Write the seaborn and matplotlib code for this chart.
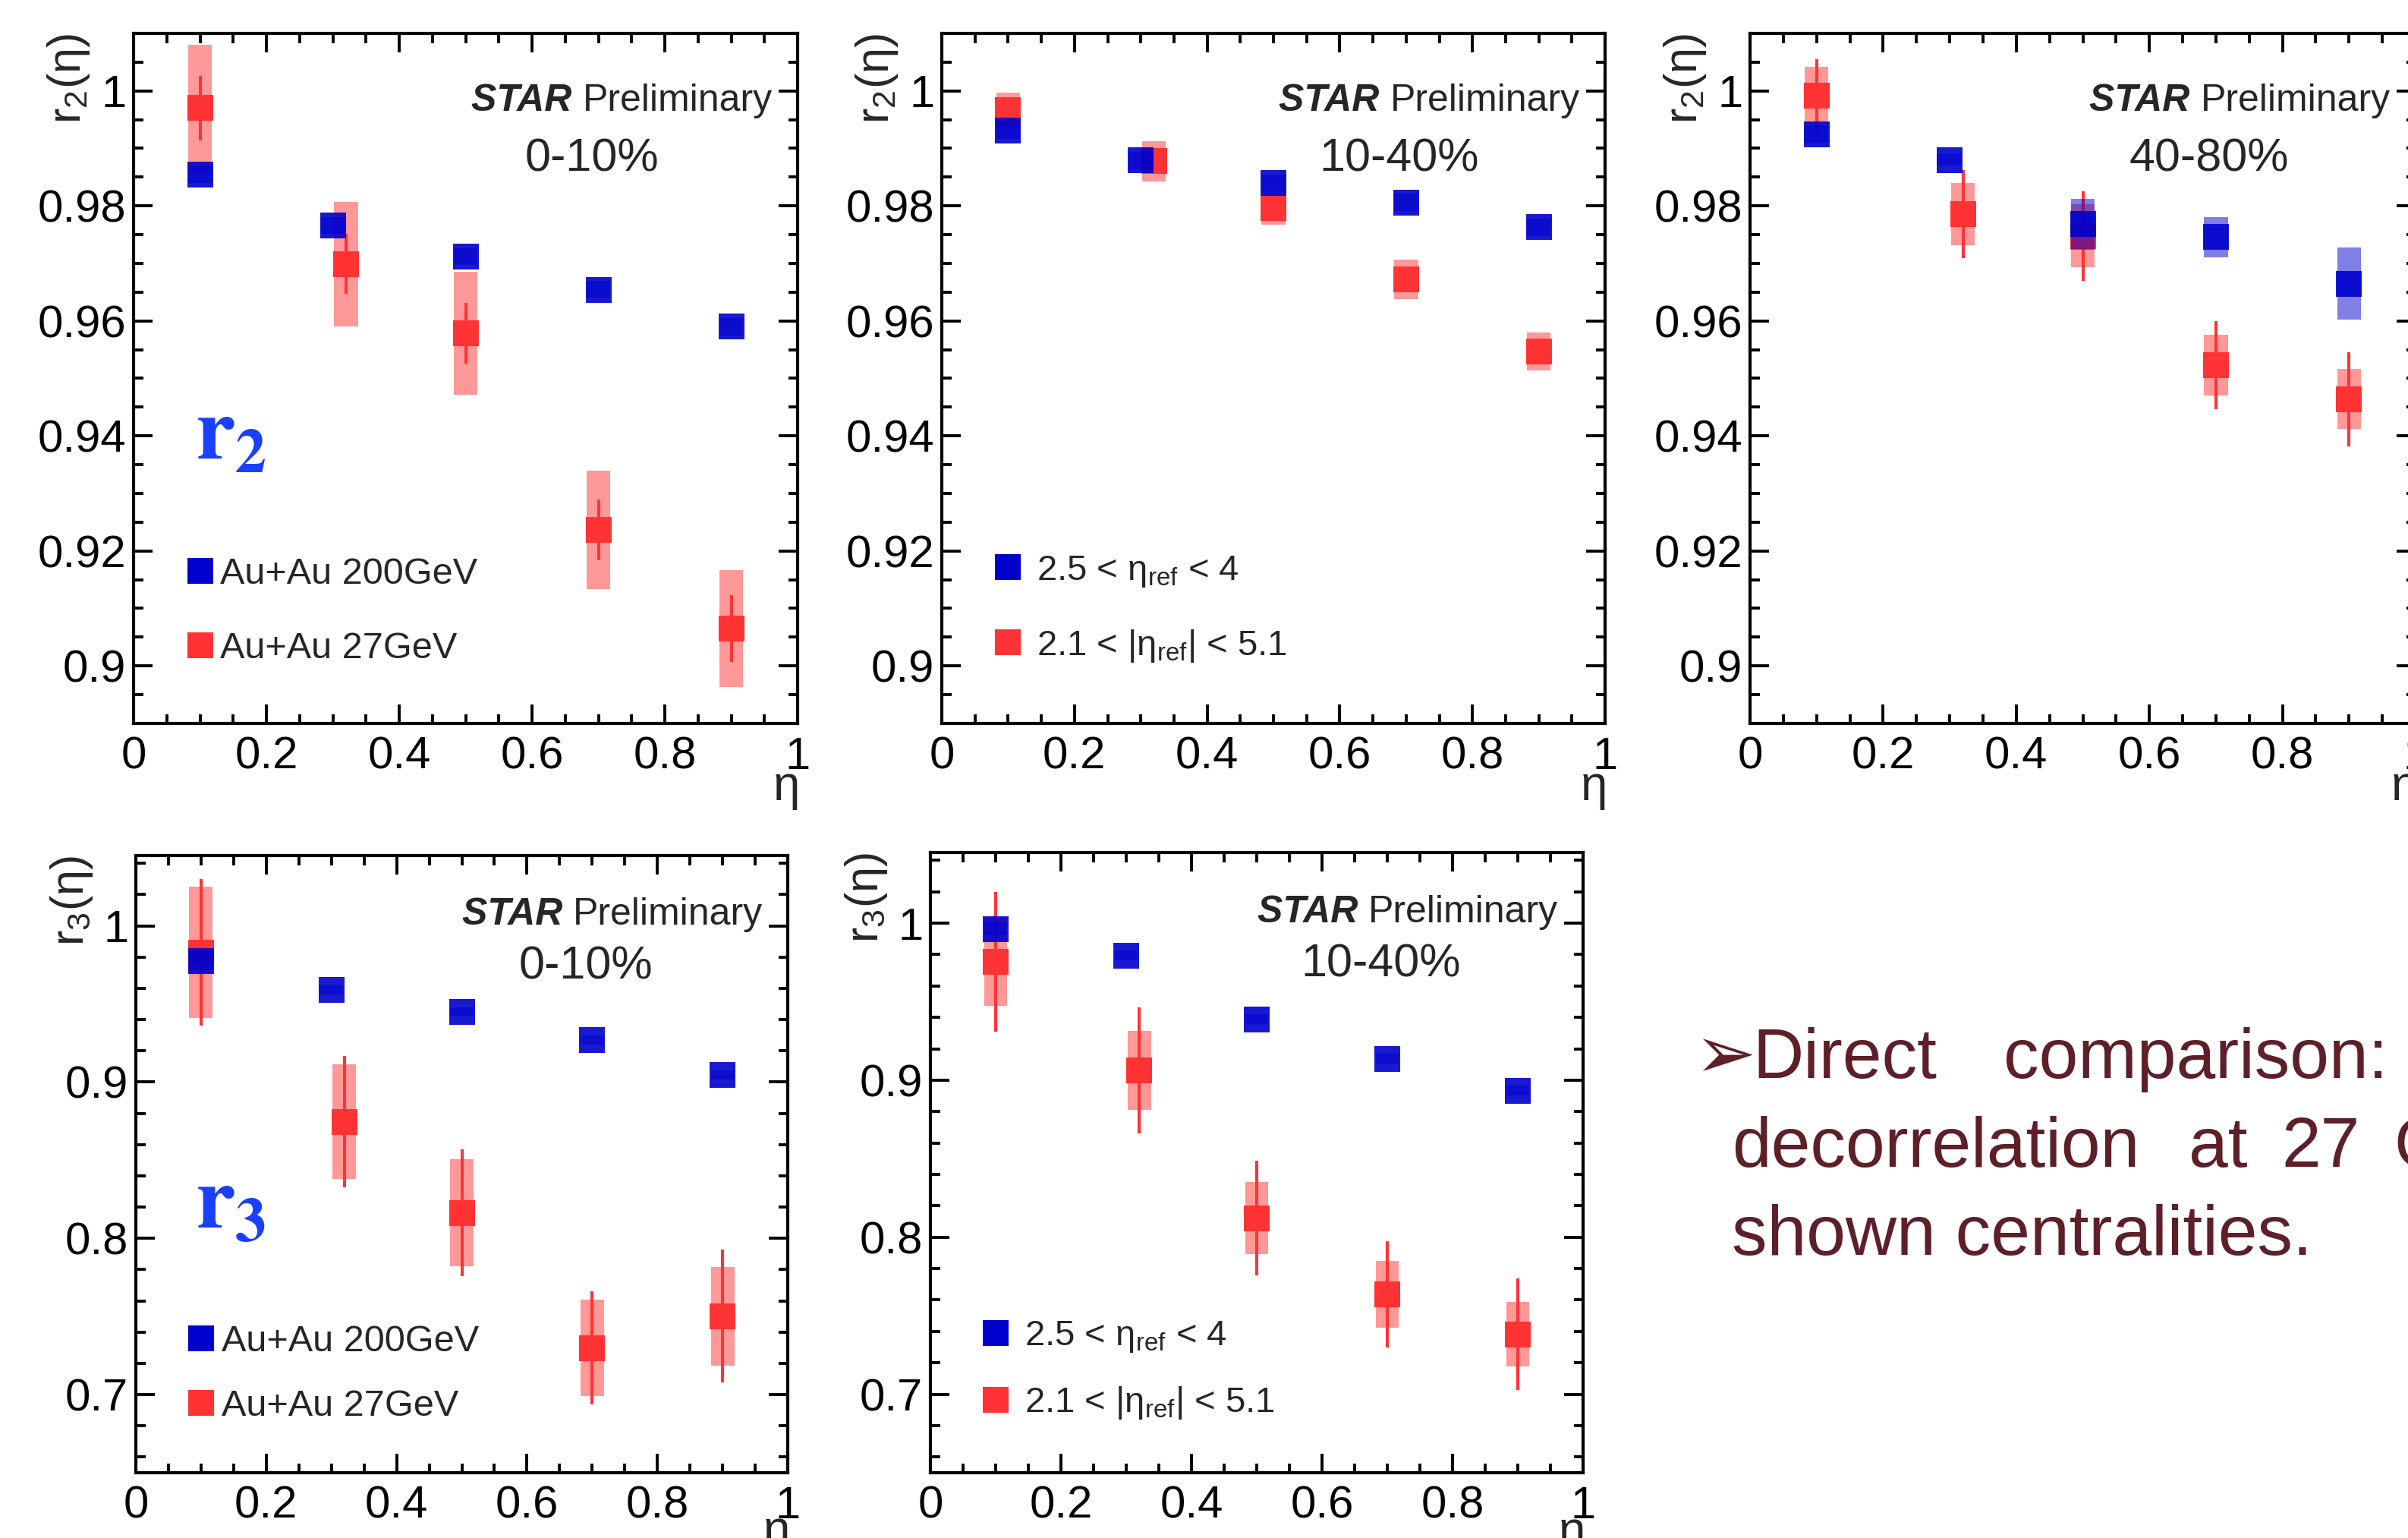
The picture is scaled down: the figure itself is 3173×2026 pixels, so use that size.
import matplotlib
matplotlib.use("Agg")
import matplotlib.pyplot as plt
from matplotlib.lines import Line2D
from matplotlib.ticker import MultipleLocator, FuncFormatter
import pandas as pd
import seaborn as sns

# ── Data ──────────────────────────────────────────────────────────────────────

ETA_200 = [0.1, 0.3, 0.5, 0.7, 0.9]
ETA_27 = [0.1, 0.32, 0.5, 0.7, 0.9]

# r2, 0-10%
r2_c010_200 = [0.9855, 0.9766, 0.9712, 0.9654, 0.9590]
r2_c010_200_sys = [0.0015, 0.0015, 0.0015, 0.0015, 0.0015]
r2_c010_27 = [0.9970, 0.9699, 0.9579, 0.9237, 0.9065]
r2_c010_27_stat = [0.0056, 0.0052, 0.0053, 0.0053, 0.0058]
r2_c010_27_sys = [0.0110, 0.0108, 0.0107, 0.0103, 0.0102]

# r2, 10-40%
r2_c1040_200 = [0.9931, 0.9879, 0.9840, 0.9806, 0.9763]
r2_c1040_200_sys = [0.0015, 0.0015, 0.0015, 0.0015, 0.0015]
r2_c1040_27 = [0.9967, 0.9878, 0.9797, 0.9672, 0.9547]
r2_c1040_27_stat = [0.0010, 0.0010, 0.0010, 0.0010, 0.0010]
r2_c1040_27_sys = [0.0030, 0.0035, 0.0030, 0.0034, 0.0033]

# r2, 40-80%
r2_c4080_200 = [0.9925, 0.9880, 0.9768, 0.9746, 0.9665]
r2_c4080_200_sys = [0.0015, 0.0010, 0.0044, 0.0035, 0.0063]
r2_c4080_27 = [0.9992, 0.9786, 0.9748, 0.9523, 0.9464]
r2_c4080_27_stat = [0.0063, 0.0077, 0.0078, 0.0077, 0.0082]
r2_c4080_27_sys = [0.0050, 0.0054, 0.0055, 0.0053, 0.0052]

# r3, 0-10%
r3_c010_200 = [0.9776, 0.9590, 0.9450, 0.9269, 0.9045]
r3_c010_200_sys = [0.0060, 0.0030, 0.0030, 0.0030, 0.0030]
r3_c010_27 = [0.9830, 0.8746, 0.8164, 0.7299, 0.7502]
r3_c010_27_stat = [0.0470, 0.0420, 0.0406, 0.0360, 0.0425]
r3_c010_27_sys = [0.0420, 0.0366, 0.0343, 0.0310, 0.0317]

# r3, 10-40%
r3_c1040_200 = [0.9964, 0.9794, 0.9388, 0.9137, 0.8934]
r3_c1040_200_sys = [0.0040, 0.0030, 0.0030, 0.0030, 0.0030]
r3_c1040_27 = [0.9755, 0.9063, 0.8122, 0.7636, 0.7382]
r3_c1040_27_stat = [0.0445, 0.0400, 0.0366, 0.0340, 0.0356]
r3_c1040_27_sys = [0.0280, 0.0250, 0.0228, 0.0213, 0.0206]

LEG_ENERGY = ["Au+Au 200GeV", "Au+Au 27GeV"]
LEG_REF = [r"2.5 < $\eta_{\rm ref}$ < 4", r"2.1 < |$\eta_{\rm ref}$| < 5.1"]

BLUE = "#0000cc"
RED = "#ff3333"
TXT = "#5e1f29"

# ── Style ─────────────────────────────────────────────────────────────────────

sns.set_theme(style="ticks")
plt.rcParams["font.family"] = ["Liberation Sans", "DejaVu Sans"]
plt.rcParams["mathtext.fontset"] = "custom"
plt.rcParams["mathtext.rm"] = "Liberation Sans"
plt.rcParams["mathtext.it"] = "Liberation Sans:italic"
plt.rcParams["mathtext.bf"] = "Liberation Sans:bold"
plt.rcParams["mathtext.default"] = "regular"

W, H = 3173, 2026
fig = plt.figure(figsize=(W / 100, H / 100), dpi=100)
fig.patch.set_facecolor("white")


def px_rect(left, top, right, bottom):
    return [left / W, 1 - bottom / H, (right - left) / W, (bottom - top) / H]


def draw_panel(rect, blue, blue_sys, red, red_stat, red_sys, ylim, major, minor,
               order, cent, legend=None, leg_font=35, leg_pad=0.15, leg_space=1.0,
               leg_y=0.164, tag=None, tag_pos=None):
    ax = fig.add_axes(px_rect(*rect))
    df_b = pd.DataFrame({"eta": ETA_200, "r": blue, "sys": blue_sys})
    df_r = pd.DataFrame({"eta": ETA_27, "r": red, "stat": red_stat, "sys": red_sys})

    # red: sys boxes, stat bars, markers
    ax.bar(df_r["eta"], 2 * df_r["sys"], bottom=df_r["r"] - df_r["sys"], width=0.036,
           color=RED, alpha=0.5, linewidth=0, zorder=1)
    ax.errorbar(df_r["eta"], df_r["r"], yerr=df_r["stat"], fmt="none", ecolor=RED,
                elinewidth=2.9, capsize=0, zorder=2)
    sns.scatterplot(data=df_r, x="eta", y="r", marker="s", s=625, color=RED,
                    linewidth=0, ax=ax, legend=False, zorder=3)
    # blue: sys boxes, markers
    ax.bar(df_b["eta"], 2 * df_b["sys"], bottom=df_b["r"] - df_b["sys"], width=0.036,
           color=BLUE, alpha=0.5, linewidth=0, zorder=4)
    sns.scatterplot(data=df_b, x="eta", y="r", marker="s", s=625, color=BLUE,
                    alpha=0.9, linewidth=0, ax=ax, legend=False, zorder=5)

    ax.set_xlim(0, 1)
    ax.set_ylim(*ylim)
    ax.xaxis.set_major_locator(MultipleLocator(0.2))
    ax.xaxis.set_minor_locator(MultipleLocator(0.05))
    ax.yaxis.set_major_locator(MultipleLocator(major))
    ax.yaxis.set_minor_locator(MultipleLocator(minor))
    fmt = FuncFormatter(lambda v, p: f"{round(v, 6):g}")
    ax.xaxis.set_major_formatter(fmt)
    ax.yaxis.set_major_formatter(fmt)
    ax.tick_params(which="both", direction="in", top=True, right=True,
                   width=2.8, colors="black", labelsize=43)
    ax.tick_params(axis="x", pad=12)
    ax.tick_params(axis="y", pad=7)
    ax.tick_params(which="major", length=18)
    ax.tick_params(which="minor", length=9)
    for s in ax.spines.values():
        s.set_linewidth(3)
        s.set_color("black")

    ax.set_xlabel(r"$\eta$", fontsize=46, loc="right")
    ax.xaxis.set_label_coords(1.0, -0.062)
    ax.set_ylabel(rf"$\mathrm{{r}}_{{{order}}}(\eta)$", fontsize=44, loc="top")
    ax.yaxis.set_label_coords(-0.063, 1.0)

    prelim = ax.text(0.962, 0.888, "Preliminary", transform=ax.transAxes,
                     ha="right", va="baseline", fontsize=36)
    ax.annotate("STAR ", xy=(0, 0), xycoords=prelim, ha="right", va="bottom",
                fontsize=36, fontweight="bold", fontstyle="italic")
    ax.text(0.69, 0.80, cent, transform=ax.transAxes, ha="center",
            va="baseline", fontsize=44)

    if legend is not None:
        handles = [Line2D([], [], marker="s", ls="", color=c, markersize=25,
                          markeredgewidth=0) for c in (BLUE, RED)]
        ax.legend(handles, legend, loc="center left",
                  bbox_to_anchor=(0.078, leg_y), frameon=False, fontsize=leg_font,
                  handlelength=0.8, handletextpad=leg_pad, borderpad=0,
                  borderaxespad=0, labelspacing=leg_space)
    if tag is not None:
        ax.text(tag_pos[0], tag_pos[1], rf"$\mathbf{{r}}_\mathbf{{{tag}}}$",
                transform=ax.transAxes, ha="left", va="baseline", fontsize=84,
                color="#1a3fff", math_fontfamily="stix")
    return ax


R2_LIM, R3_LIM = (0.89, 1.01), (0.65, 1.045)

draw_panel((176, 44, 1051, 953), r2_c010_200, r2_c010_200_sys, r2_c010_27,
           r2_c010_27_stat, r2_c010_27_sys, R2_LIM, 0.02, 0.005, 2, "0-10%",
           legend=LEG_ENERGY, leg_font=35, leg_pad=0.15, leg_space=1.08,
           leg_y=0.162, tag=2, tag_pos=(0.093, 0.383))
draw_panel((1241, 44, 2115, 953), r2_c1040_200, r2_c1040_200_sys, r2_c1040_27,
           r2_c1040_27_stat, r2_c1040_27_sys, R2_LIM, 0.02, 0.005, 2, "10-40%",
           legend=LEG_REF, leg_font=34, leg_pad=0.4, leg_space=1.08, leg_y=0.166)
draw_panel((2306, 44, 3183, 953), r2_c4080_200, r2_c4080_200_sys, r2_c4080_27,
           r2_c4080_27_stat, r2_c4080_27_sys, R2_LIM, 0.02, 0.005, 2, "40-80%")
draw_panel((179, 1127, 1038, 1940), r3_c010_200, r3_c010_200_sys, r3_c010_27,
           r3_c010_27_stat, r3_c010_27_sys, R3_LIM, 0.1, 0.02, 3, "0-10%",
           legend=LEG_ENERGY, leg_font=35, leg_pad=0.15, leg_space=0.81,
           leg_y=0.160, tag=3, tag_pos=(0.091, 0.397))
draw_panel((1226, 1123, 2086, 1940), r3_c1040_200, r3_c1040_200_sys, r3_c1040_27,
           r3_c1040_27_stat, r3_c1040_27_sys, R3_LIM, 0.1, 0.02, 3, "10-40%",
           legend=LEG_REF, leg_font=34, leg_pad=0.4, leg_space=0.84, leg_y=0.165)

# ── Slide text on the right ───────────────────────────────────────────────────

words = [("\u27a2", 2232, 1420, 70), ("Direct", 2309, 1420, 67),
         ("comparison:", 2640, 1420, 67),
         ("decorrelation", 2282, 1537, 67), ("at", 2884, 1537, 67),
         ("27", 3006, 1537, 67), ("GeV", 3154, 1537, 67),
         ("shown centralities.", 2282, 1653, 67)]
for word, x, y, size in words:
    fig.text(x / W, 1 - y / H, word, ha="left", va="baseline", fontsize=size,
             color=TXT, family=["Liberation Sans", "DejaVu Sans"])

fig.savefig("out.png", dpi=100, facecolor="white")
